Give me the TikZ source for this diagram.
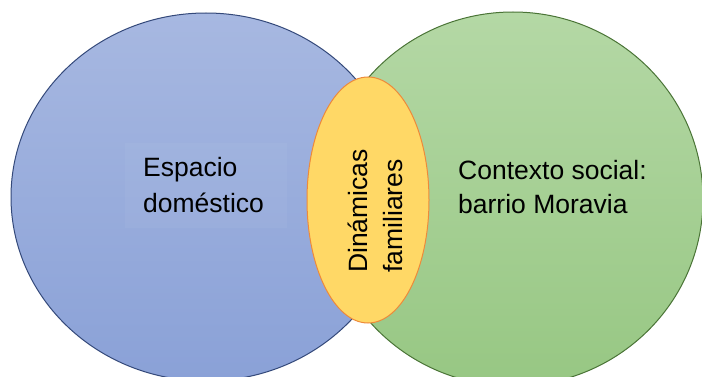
\documentclass[tikz,border=0pt]{standalone}
\usepackage{fontspec}
\setmainfont{Liberation Sans}
\definecolor{blueTop}{HTML}{A7B8E1}
\definecolor{blueBot}{HTML}{8AA1D7}
\definecolor{blueLine}{HTML}{34497A}
\definecolor{greenTop}{HTML}{B4D8A5}
\definecolor{greenBot}{HTML}{97C783}
\definecolor{greenLine}{HTML}{4A7436}
\definecolor{yellowFill}{HTML}{FFD866}
\definecolor{orangeLine}{HTML}{EE8A3A}
\tikzset{
  lbl/.style={font=\fontsize{26.5}{35}\selectfont, inner sep=0pt, text=black},
  venn/.style={line width=1pt},
}
\begin{document}
\begin{tikzpicture}[x=1pt,y=-1pt]
\useasboundingbox (0,0) rectangle (702,377);
\clip (0,0) rectangle (702,377);
% blue set
\path[venn, draw=blueLine, top color=blueTop, bottom color=blueBot]
  (206,197) ellipse [x radius=195, y radius=184];
\fill[white, opacity=0.04] (125,143) rectangle (287,228);
% green set
\path[venn, draw=greenLine, top color=greenTop, bottom color=greenBot]
  (513,199) ellipse [x radius=190, y radius=187];
% yellow intersection
\path[venn, draw=orangeLine, fill=yellowFill]
  (368,200) ellipse [x radius=61, y radius=123];
% labels
\node[lbl, anchor=base west] (e1) at (143,177) {Espacio};
\node[lbl, anchor=base west] (e2) at (143,212) {doméstico};
\node[lbl, anchor=base west] (c1) at (458,179) {Contexto social:};
\node[lbl, anchor=base west] (c2) at (458,214) {barrio Moravia};
\node[lbl, anchor=base west, rotate=90] (d1) at (367,273) {Dinámicas};
\node[lbl, anchor=base west, rotate=90] (d2) at (402,273) {familiares};
\end{tikzpicture}
\end{document}
